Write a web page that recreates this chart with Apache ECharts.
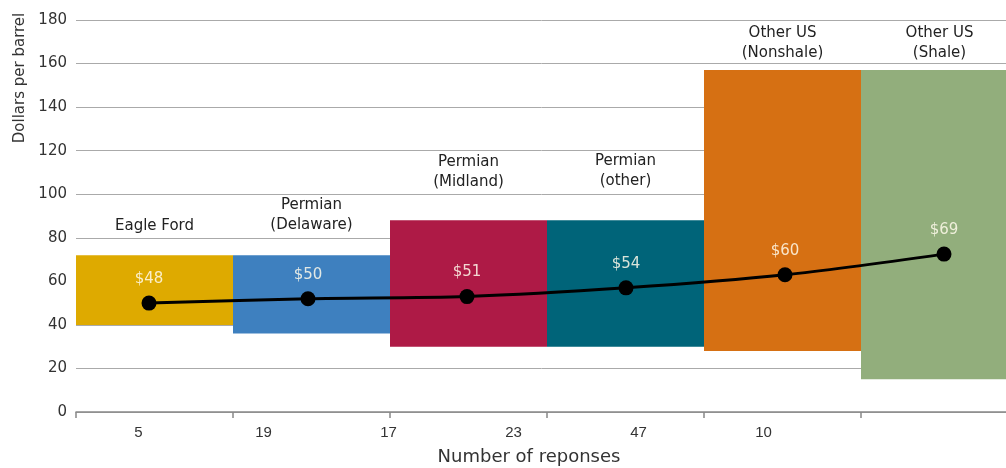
<!DOCTYPE html>
<html><head><meta charset="utf-8">
<script src="https://cdn.jsdelivr.net/npm/echarts@6/dist/echarts.min.js"></script>
<style>html,body{margin:0;padding:0;background:#fff}#c{width:1006px;height:468px}</style>
</head><body><div id="c"></div>
<script>
const regions = ['Eagle Ford', 'Permian\n(Delaware)', 'Permian\n(Midland)', 'Permian\n(other)', 'Other US\n(Nonshale)', 'Other US\n(Shale)'];
const responses = ['5', '19', '17', '23', '47', '10', ''];
const rangeLow = [40, 36, 30, 30, 28, 15];
const rangeHigh = [72, 72, 88, 88, 157, 157];
const avgPoint = [50, 52, 53, 57, 63, 72.5];
const avgLabel = ['$48', '$50', '$51', '$54', '$60', '$69'];

const colors = ['#DEAA00', '#3E80BF', '#AE1A46', '#006479', '#D67013', '#92AE7C'];
const nameDist = [19, 20, 28, 29, 7, 7];
const FONT = 'Liberation Sans, Arial, sans-serif';
const WIDE = 'DejaVu Sans, sans-serif';

const chart = echarts.init(document.getElementById('c'), null, {renderer: 'canvas'});
const gTop = 20, gBottom = 56;
const gridBase = {top: gTop, bottom: gBottom, outerBoundsMode: 'none', containLabel: false};
chart.setOption({
  animation: false,
  textStyle: {fontFamily: FONT},
  grid: [
    Object.assign({left: 76, width: 942}, gridBase),
    Object.assign({left: 69.5, width: 954}, gridBase),
    Object.assign({left: 76, width: 875}, gridBase)
  ],
  xAxis: [
    {type: 'category', gridIndex: 0, data: regions, boundaryGap: true,
     axisLine: {lineStyle: {color: '#888', width: 1.5}},
     axisTick: {show: true, length: 6, lineStyle: {color: '#888', width: 1.5}},
     axisLabel: {show: false},
     name: 'Number of reponses', nameLocation: 'middle', nameGap: 36,
     nameTextStyle: {fontSize: 18, color: '#333', fontFamily: WIDE, padding: [0, 36, 0, 0]}},
    {type: 'category', gridIndex: 1, data: regions, show: false},
    {type: 'category', gridIndex: 2, data: responses, boundaryGap: true,
     axisLine: {show: false}, axisTick: {show: false},
     axisLabel: {fontSize: 15, color: '#333', margin: 13, fontFamily: FONT, interval: 0}}
  ],
  yAxis: [
    {type: 'value', gridIndex: 0, min: 0, max: 180, interval: 20,
     axisLine: {show: false}, axisTick: {show: false},
     axisLabel: {fontSize: 15, color: '#333', margin: 9, fontFamily: WIDE},
     splitLine: {lineStyle: {color: '#aaa', width: 1}},
     name: 'Dollars per barrel', nameLocation: 'middle', nameGap: 47,
     nameTextStyle: {fontSize: 15, color: '#333', fontFamily: WIDE, padding: [0, 0, 0, 276]}},
    {type: 'value', gridIndex: 1, min: 0, max: 180, show: false},
    {type: 'value', gridIndex: 2, min: 0, max: 180, show: false}
  ],
  series: [
    {type: 'bar', xAxisIndex: 0, yAxisIndex: 0, stack: 'r', barCategoryGap: 0, silent: true,
     itemStyle: {color: 'rgba(0,0,0,0)'}, data: rangeLow},
    {type: 'bar', xAxisIndex: 0, yAxisIndex: 0, stack: 'r', barCategoryGap: 0,
     data: rangeHigh.map((h, i) => ({
       value: h - rangeLow[i],
       itemStyle: {color: colors[i]},
       label: {distance: nameDist[i]}
     })),
     label: {show: true, position: 'top', fontSize: 15, lineHeight: 20, color: '#222', fontFamily: WIDE,
       formatter: p => regions[p.dataIndex]}},
    {type: 'line', xAxisIndex: 1, yAxisIndex: 1, z: 5, smooth: 0.3,
     data: avgPoint, symbol: 'circle', symbolSize: 15,
     lineStyle: {color: '#000', width: 3}, itemStyle: {color: '#000'},
     label: {show: true, position: 'top', distance: 9, fontSize: 15, color: 'rgba(255,250,235,0.85)', fontFamily: WIDE,
       formatter: p => avgLabel[p.dataIndex]}}
  ]
});
</script></body></html>
